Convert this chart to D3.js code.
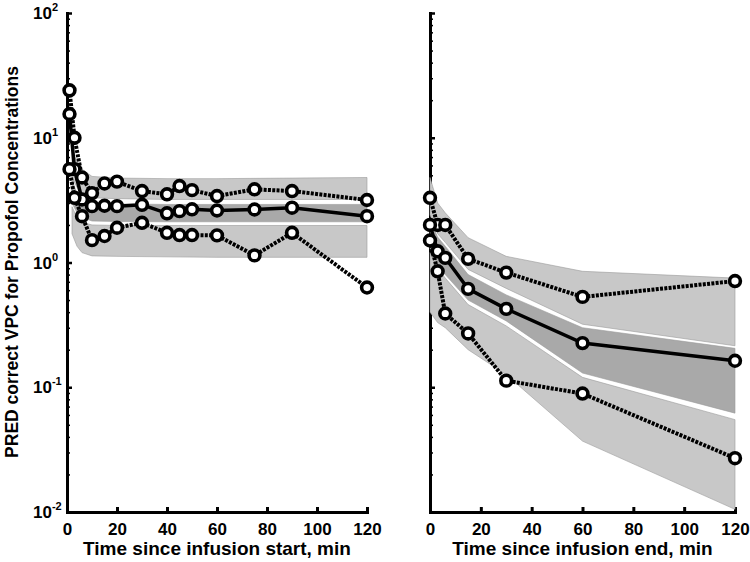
<!DOCTYPE html>
<html><head><meta charset="utf-8">
<script src="https://cdn.jsdelivr.net/npm/d3@7"></script>
<style>
body{margin:0;background:#fff}
svg{display:block}
text{font-family:"Liberation Sans",Arial,Helvetica,sans-serif;font-weight:bold;fill:#000}
</style>
</head><body>
<svg id="c" width="750" height="562"></svg>
<script>
// ---------- data ----------
const leftTimes  = [1, 3, 6, 10, 15, 20, 30, 40, 45, 50, 60, 75, 90, 120];
const leftUpper  = [24, 10, 4.8, 3.6, 4.3, 4.45, 3.74, 3.52, 4.1, 3.8, 3.41, 3.86, 3.74, 3.17];
const leftMedian = [15.5, 5.6, 3.2, 2.83, 2.85, 2.83, 2.9, 2.48, 2.58, 2.67, 2.61, 2.66, 2.75, 2.35];
const leftLower  = [5.6, 3.3, 2.35, 1.51, 1.63, 1.9, 2.08, 1.73, 1.66, 1.66, 1.65, 1.14, 1.73, 0.63];

const leftBandTimes = [2, 4, 6, 10, 20, 40, 60, 90, 120];
const leftUpHi  = [8.0, 6.4, 5.6, 4.9, 4.75, 4.7, 4.7, 4.75, 4.8];
const leftUpLo  = [4.8, 4.0, 3.6, 3.3, 3.25, 3.2, 3.2, 3.2, 3.2];
const leftMedHi = [4.5, 3.6, 3.15, 3.0, 2.95, 2.92, 2.92, 2.92, 2.92];
const leftMedLo = [3.0, 2.5, 2.3, 2.15, 2.13, 2.12, 2.12, 2.12, 2.12];
const leftLowHi = [2.8, 2.3, 2.1, 2.0, 1.98, 1.98, 1.98, 1.98, 1.98];
const leftLowLo = [1.7, 1.35, 1.2, 1.13, 1.12, 1.11, 1.1, 1.1, 1.1];

const rightTimes  = [0, 3, 6, 15, 30, 60, 120];
const rightUpper  = [3.3, 2.0, 2.0, 1.07, 0.83, 0.53, 0.71];
const rightMedian = [2.0, 1.23, 1.09, 0.615, 0.425, 0.226, 0.163];
const rightLower  = [1.5, 0.85, 0.39, 0.27, 0.113, 0.089, 0.027];

const rightBandTimes = [0, 3, 6, 15, 30, 60, 120];
const rightUpHi  = [4.8, 3.0, 2.5, 1.58, 1.12, 0.85, 0.75];
const rightUpLo  = [2.4, 1.7, 1.45, 0.88, 0.62, 0.32, 0.215];
const rightMedHi = [2.2, 1.6, 1.35, 0.8, 0.55, 0.3, 0.205];
const rightMedLo = [1.3, 0.95, 0.8, 0.5, 0.34, 0.13, 0.062];
const rightLowHi = [1.2, 0.9, 0.75, 0.46, 0.31, 0.12, 0.055];
const rightLowLo = [0.4, 0.33, 0.3, 0.2, 0.126, 0.037, 0.0105];

const xTicks = [0, 20, 40, 60, 80, 100, 120];
const yMajor = [0.01, 0.1, 1, 10, 100];
const yExpLabels = ["-2", "-1", "0", "1", "2"];

const yTitle = "PRED correct VPC for Propofol Concentrations";
const xTitleLeft = "Time since infusion start, min";
const xTitleRight = "Time since infusion end, min";

// ---------- layout ----------
const svg = d3.select("#c");
const y = d3.scaleLog().domain([0.01, 100]).range([512, 13]);
const xL = d3.scaleLinear().domain([0, 120]).range([67, 367]);
const xR = d3.scaleLinear().domain([0, 120]).range([430, 735]);

const yMinor = [];
for (const d of [0.01, 0.1, 1, 10]) for (let k = 2; k <= 9; k++) yMinor.push(d * k);

const LIGHT = "#c8c8c8", DARK = "#a9a9a9";

function panel(x, times, upper, median, lower, bt, uh, ul, mh, ml, lh, ll, showYLabels, xTitle) {
  const g = svg.append("g");
  // axes
  const xa = d3.axisBottom(x).tickValues(xTicks).tickFormat(d3.format("d"))
    .tickSizeInner(-5).tickSizeOuter(0).tickPadding(11);
  const gx = g.append("g").attr("transform", "translate(0,512)").call(xa);
  gx.select(".domain").attr("stroke-width", 3).attr("stroke-linecap", "square");
  gx.selectAll(".tick line").attr("stroke-width", 3);
  gx.selectAll(".tick text").attr("font-size", 17).attr("font-family", null);

  const ya = d3.axisLeft(y).tickValues(yMajor).tickSizeInner(-5).tickSizeOuter(0).tickFormat("");
  const gy = g.append("g").attr("transform", `translate(${x(0)},0)`).call(ya);
  gy.select(".domain").attr("stroke-width", 3).attr("stroke-linecap", "square");
  gy.selectAll(".tick line").attr("stroke-width", 2.5);
  const ym = d3.axisLeft(y).tickValues(yMinor).tickSizeInner(-3).tickSizeOuter(0).tickFormat("");
  const gym = g.append("g").attr("transform", `translate(${x(0)},0)`).call(ym);
  gym.select(".domain").remove();
  gym.selectAll(".tick line").attr("stroke-width", 1.5);

  if (showYLabels) {
    yMajor.forEach((v, i) => {
      const t = g.append("text").attr("x", 33).attr("y", y(v) + 6).attr("font-size", 17);
      t.append("tspan").text("10");
      t.append("tspan").attr("dy", -8).attr("font-size", 11).text(yExpLabels[i]);
    });
  }

  g.append("text").attr("x", (x(0) + x(120)) / 2).attr("y", 555)
    .attr("text-anchor", "middle").attr("font-size", 19).text(xTitle);

  // bands
  const area = (hi, lo) => d3.area()
    .x((d, i) => x(bt[i])).y0((d, i) => y(lo[i])).y1((d, i) => y(hi[i]))(bt);
  g.append("path").attr("d", area(uh, ul)).attr("fill", LIGHT).attr("stroke", "#9a9a9a").attr("stroke-width", 0.6);
  g.append("path").attr("d", area(lh, ll)).attr("fill", LIGHT).attr("stroke", "#9a9a9a").attr("stroke-width", 0.6);
  g.append("path").attr("d", area(mh, ml)).attr("fill", DARK).attr("stroke", "#9a9a9a").attr("stroke-width", 0.6);

  // lines
  const line = vals => d3.line().x((d, i) => x(times[i])).y((d, i) => y(vals[i]))(times);
  g.append("path").attr("d", line(upper)).attr("fill", "none").attr("stroke", "#000")
    .attr("stroke-width", 4).attr("stroke-dasharray", "3,1.3");
  g.append("path").attr("d", line(lower)).attr("fill", "none").attr("stroke", "#000")
    .attr("stroke-width", 4).attr("stroke-dasharray", "3,1.3");
  g.append("path").attr("d", line(median)).attr("fill", "none").attr("stroke", "#000")
    .attr("stroke-width", 3.5);

  // markers
  for (const vals of [upper, median, lower]) {
    g.selectAll(null).data(times).join("circle")
      .attr("cx", d => x(d)).attr("cy", (d, i) => y(vals[i])).attr("r", 5.4)
      .attr("fill", "#fff").attr("stroke", "#000").attr("stroke-width", 3.6);
  }
}

panel(xL, leftTimes, leftUpper, leftMedian, leftLower,
  leftBandTimes, leftUpHi, leftUpLo, leftMedHi, leftMedLo, leftLowHi, leftLowLo, true, xTitleLeft);
panel(xR, rightTimes, rightUpper, rightMedian, rightLower,
  rightBandTimes, rightUpHi, rightUpLo, rightMedHi, rightMedLo, rightLowHi, rightLowLo, false, xTitleRight);

svg.append("text").attr("transform", "translate(18,262) rotate(-90)")
  .attr("text-anchor", "middle").attr("font-size", 17.5).text(yTitle);
</script>
</body></html>
